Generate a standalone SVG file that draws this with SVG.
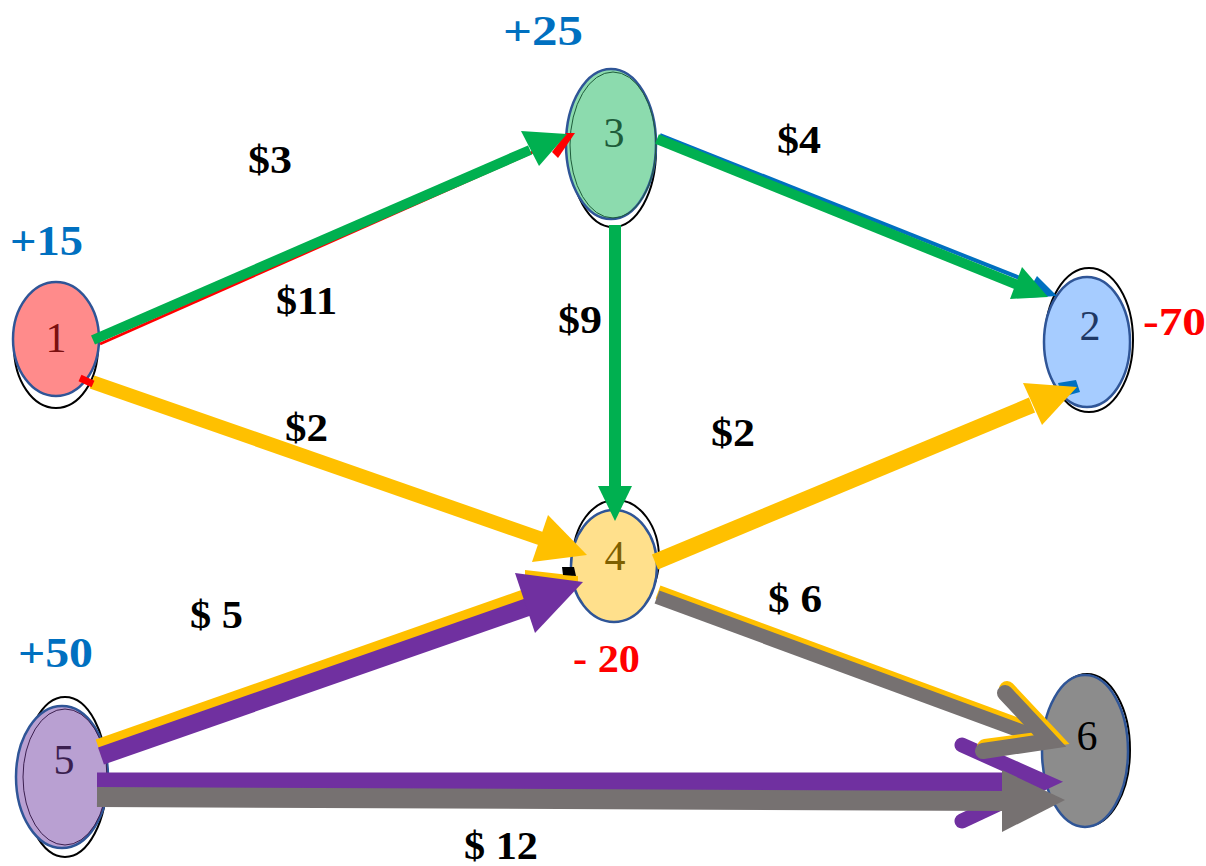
<svg xmlns="http://www.w3.org/2000/svg" width="1206" height="866" viewBox="0 0 1206 866">
<style>
.bg{fill:#fff}
.sh{fill:none;stroke:#000;stroke-width:2}
.nd{stroke:#2F5597;stroke-width:2.5}
.num{font-family:"Liberation Serif","Times New Roman",serif;font-size:42px;text-anchor:middle}
.lbl{font-family:"Liberation Serif","Times New Roman",serif;font-weight:bold;font-size:39px;fill:#000}
.sup{font-family:"Liberation Serif","Times New Roman",serif;font-weight:bold;font-size:42px;fill:#0070C0}
.dem{font-family:"Liberation Serif","Times New Roman",serif;font-weight:bold;font-size:41px;fill:#FF0000}
.g{stroke:#00B050;fill:none}
.y{stroke:#FFC000;fill:none}
.p{stroke:#7030A0;fill:none}
.k{stroke:#767171;fill:none}
</style>
<rect class="bg" x="0" y="0" width="1206" height="866"/>
<g id="node1">
<ellipse class="sh" cx="56" cy="347" rx="42" ry="61"/>
<ellipse class="nd" cx="56" cy="339" rx="43" ry="57" fill="#FF8B8B"/>
<text class="num" x="56" y="352" fill="#7B1010">1</text>
</g>
<g id="node3">
<ellipse class="sh" cx="613" cy="150" rx="43" ry="77"/>
<ellipse class="nd" cx="611" cy="144" rx="45" ry="75" fill="#8CDBAE"/>
<ellipse cx="613" cy="145" rx="43" ry="73" fill="none" stroke="#1E5C3A" stroke-width="1"/>
<text class="num" x="614" y="147" fill="#1E5C3A">3</text>
</g>
<g id="node2">
<ellipse class="sh" cx="1089" cy="340" rx="44" ry="72"/>
<ellipse class="nd" cx="1087" cy="342" rx="43" ry="65" fill="#A6CCFF"/>
<text class="num" x="1090" y="340" fill="#1F3864">2</text>
</g>
<g id="node4">
<ellipse class="sh" cx="616" cy="558" rx="43" ry="58"/>
<ellipse class="nd" cx="614" cy="566" rx="43" ry="56" fill="#FFE08C"/>
<text class="num" x="615" y="570" fill="#7F6000">4</text>
</g>
<g id="node5">
<ellipse class="sh" cx="65" cy="777" rx="42" ry="80"/>
<ellipse class="nd" cx="62" cy="777" rx="46" ry="71" fill="#B9A0D2"/>
<ellipse cx="65" cy="777" rx="42" ry="68" fill="none" stroke="#3B1F4F" stroke-width="1"/>
<text class="num" x="64" y="774" fill="#3B1F4F">5</text>
</g>
<g id="node6">
<ellipse class="sh" cx="1087" cy="750" rx="43" ry="76"/>
<ellipse class="nd" cx="1085" cy="751" rx="43" ry="76" fill="#8C8C8C"/>
<text class="num" x="1087" y="750" fill="#000">6</text>
</g>
<g id="connectors">
<!-- 1 -> 3 -->
<line x1="100" y1="344" x2="560" y2="140" stroke="#FF0000" stroke-width="3"/>
<polygon points="552,152 558,158 575,133 566,133" fill="#FF0000"/>
<line class="g" x1="93" y1="340" x2="530" y2="150" stroke-width="10"/>
<polygon points="521,131 539,166 567,134" fill="#00B050"/>
<!-- 1 -> 4 -->
<line class="y" x1="92" y1="382" x2="545" y2="540" stroke-width="14"/>
<polygon points="548,515 532,562 587,555" fill="#FFC000"/>
<line x1="80" y1="378" x2="93" y2="384" stroke="#FF0000" stroke-width="7"/>
<!-- 3 -> 4 -->
<line class="g" x1="615" y1="225" x2="615" y2="490" stroke-width="12"/>
<polygon points="598,486 632,486 615,521" fill="#00B050"/>
<!-- 3 -> 2 -->
<line x1="660" y1="135" x2="1030" y2="282" stroke="#0070C0" stroke-width="4"/>
<polygon points="1037,276 1024,298 1057,296" fill="#0070C0"/>
<line class="g" x1="657" y1="139" x2="1020" y2="286" stroke-width="10"/>
<polygon points="1022,267 1010,299 1048,297" fill="#00B050"/>
<!-- 4 -> 2 -->
<polygon points="1058,383 1076,380 1080,392 1062,397" fill="#0070C0"/>
<line class="y" x1="655" y1="562" x2="1032" y2="405" stroke-width="16"/>
<polygon points="1023,383 1042,425 1077,387" fill="#FFC000"/>
<!-- 5 -> 4 -->
<line class="y" x1="99" y1="749" x2="540" y2="594" stroke-width="20"/>
<polygon points="525,570 578,576 578,582 525,578" fill="#FFC000"/>
<polygon points="562,567 574,567 576,576 563,575" fill="#000"/>
<line class="p" x1="101" y1="756" x2="545" y2="601" stroke-width="18"/>
<polygon points="515,573 535,633 583,582" fill="#7030A0"/>
<!-- 5 -> 6 purple -->
<line class="p" x1="97" y1="782" x2="1035" y2="782" stroke-width="19"/>
<polyline class="p" points="962,745 1045,782 962,821" stroke-width="15" stroke-linecap="round" stroke-linejoin="miter"/>
<!-- 4 -> 6 -->
<line class="y" x1="658" y1="592" x2="1048" y2="736" stroke-width="14"/>
<line class="k" x1="657" y1="597" x2="1048" y2="741" stroke-width="14"/>
<polyline class="y" points="1007,689 1053,738 985,747" stroke-width="16" stroke-linecap="round" stroke-linejoin="miter"/>
<polyline class="k" points="1005,693 1050,741 983,751" stroke-width="16" stroke-linecap="round" stroke-linejoin="miter"/>
<!-- 5 -> 6 gray -->
<line class="k" x1="97" y1="797" x2="1005" y2="801" stroke-width="20"/>
<polygon points="1002,770 1002,832 1065,800" fill="#767171"/>
</g>
<g id="labels">
<text class="lbl" x="248" y="173" textLength="44" lengthAdjust="spacingAndGlyphs">$3</text>
<text class="lbl" x="276" y="314" textLength="61" lengthAdjust="spacingAndGlyphs">$11</text>
<text class="lbl" x="285" y="441" textLength="43" lengthAdjust="spacingAndGlyphs">$2</text>
<text class="lbl" x="558" y="333" textLength="44" lengthAdjust="spacingAndGlyphs">$9</text>
<text class="lbl" x="777" y="153" textLength="44" lengthAdjust="spacingAndGlyphs">$4</text>
<text class="lbl" x="711" y="446" textLength="44" lengthAdjust="spacingAndGlyphs">$2</text>
<text class="lbl" x="190" y="628" textLength="53" lengthAdjust="spacingAndGlyphs">$ 5</text>
<text class="lbl" x="768" y="612" textLength="54" lengthAdjust="spacingAndGlyphs">$ 6</text>
<text class="lbl" x="464" y="859" textLength="74" lengthAdjust="spacingAndGlyphs">$ 12</text>
<text class="sup" x="503" y="45" font-size="46" textLength="80" lengthAdjust="spacingAndGlyphs">+25</text>
<text class="sup" x="10" y="255" textLength="73" lengthAdjust="spacingAndGlyphs">+15</text>
<text class="sup" x="18" y="667" textLength="75" lengthAdjust="spacingAndGlyphs">+50</text>
<text class="dem" x="1143" y="335" textLength="63" lengthAdjust="spacingAndGlyphs">-70</text>
<text class="dem" x="573" y="672" font-size="37" textLength="67" lengthAdjust="spacingAndGlyphs">- 20</text>
</g>
</svg>
